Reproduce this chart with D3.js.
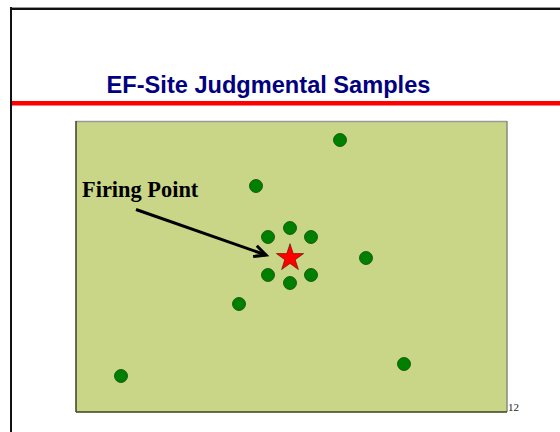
<!DOCTYPE html>
<html><head><meta charset="utf-8">
<script src="https://cdn.jsdelivr.net/npm/d3@7"></script>
<style>body{margin:0;background:#fff}svg{display:block}</style>
</head><body>
<script>
const title = "EF-Site Judgmental Samples";
const annotation = "Firing Point";
const pageNumber = "12";
// sample locations in field units (x across, y down)
const sampleX = [264, 180, 214, 192, 235, 290, 192, 235, 214, 163, 328, 45];
const sampleY = [19, 65, 107, 116, 116, 137, 154, 154, 162, 183, 243, 255];
const starX = [214];
const starY = [136];
const fieldW = 431, fieldH = 291;

const W = 560, H = 432;
const svg = d3.select("body").append("svg").attr("width", W).attr("height", H);

// slide frame
svg.append("rect").attr("x",10).attr("y",7).attr("width",W).attr("height",1.5).attr("fill","#999");
svg.append("rect").attr("x",10).attr("y",8).attr("width",W).attr("height",2).attr("fill","#111");
svg.append("rect").attr("x",10).attr("y",7).attr("width",2).attr("height",H).attr("fill","#111");

// title
svg.append("text").attr("x",268.5).attr("y",93).attr("text-anchor","middle")
  .attr("font-family","Liberation Sans, Arial, sans-serif").attr("font-weight","bold")
  .attr("font-size",23.6).attr("fill","#000080").text(title);
svg.append("rect").attr("x",12).attr("y",101).attr("width",W).attr("height",4.5).attr("fill","#ff0000");

const x = d3.scaleLinear().domain([0, fieldW]).range([76, 507]);
const y = d3.scaleLinear().domain([0, fieldH]).range([121, 412]);

// field
svg.append("rect").attr("x",x(0)).attr("y",y(0)).attr("width",x(fieldW)-x(0)).attr("height",y(fieldH)-y(0))
  .attr("fill","#c9d688");
svg.append("line").attr("x1",x(0)).attr("x2",x(fieldW)).attr("y1",y(0)+0.5).attr("y2",y(0)+0.5).attr("stroke","#9a9a9a").attr("stroke-width",1.5);
svg.append("line").attr("x1",x(fieldW)).attr("x2",x(fieldW)).attr("y1",y(0)).attr("y2",y(fieldH)).attr("stroke","#8a8a80").attr("stroke-width",1.5);
svg.append("line").attr("x1",x(0)).attr("x2",x(0)).attr("y1",y(0)).attr("y2",y(fieldH)).attr("stroke","#3c4020").attr("stroke-width",1.5);
svg.append("line").attr("x1",x(0)).attr("x2",x(fieldW)).attr("y1",y(fieldH)).attr("y2",y(fieldH)).attr("stroke","#3c4020").attr("stroke-width",1.5);

// samples
const pts = sampleX.map((v,i)=>({x:v,y:sampleY[i]}));
svg.selectAll("circle.s").data(pts).join("circle").attr("class","s")
  .attr("cx",d=>x(d.x)).attr("cy",d=>y(d.y)).attr("r",6.5)
  .attr("fill","#008000").attr("stroke","#0a4a0a").attr("stroke-width",0.8);

// star
const star = d3.symbol().type(d3.symbolStar).size(230);
svg.selectAll("path.star").data(starX.map((v,i)=>({x:v,y:starY[i]}))).join("path").attr("class","star")
  .attr("d",star).attr("transform",d=>`translate(${x(d.x)},${y(d.y)+1})`)
  .attr("fill","#ff0000").attr("stroke","#600000").attr("stroke-width",0.6);

// annotation
svg.append("text").attr("x",82).attr("y",197)
  .attr("font-family","Liberation Serif, Times New Roman, serif").attr("font-weight","bold")
  .attr("font-size",22.4).attr("fill","#000").text(annotation);
const ax1 = 136, ay1 = 209.5, ax2 = x(starX[0]) - 24, ay2 = y(starY[0]) - 2;
svg.append("line").attr("x1",ax1).attr("y1",ay1).attr("x2",ax2).attr("y2",ay2)
  .attr("stroke","#000").attr("stroke-width",3);
const ang = Math.atan2(ay2-ay1, ax2-ax1), hl = 13, ha = 0.45;
svg.append("path").attr("d",`M${ax2-hl*Math.cos(ang-ha)},${ay2-hl*Math.sin(ang-ha)}L${ax2},${ay2}L${ax2-hl*Math.cos(ang+ha)},${ay2-hl*Math.sin(ang+ha)}`)
  .attr("fill","none").attr("stroke","#000").attr("stroke-width",3).attr("stroke-linejoin","miter");

// page number
svg.append("text").attr("x",508).attr("y",411)
  .attr("font-family","Liberation Serif, Times New Roman, serif").attr("font-size",11).attr("fill","#222").text(pageNumber);
</script>
</body></html>
